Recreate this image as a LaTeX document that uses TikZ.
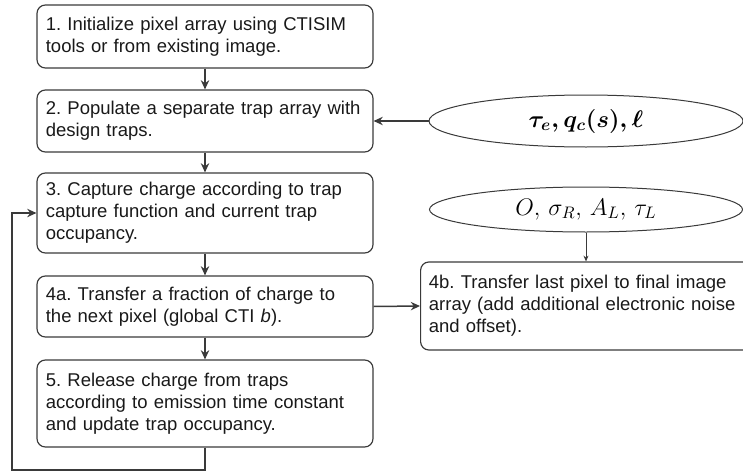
\documentclass[tikz,border=0pt]{standalone}
\usepackage{fontspec}
\setmainfont{Liberation Sans}
\usetikzlibrary{shapes.geometric,arrows.meta}

\definecolor{linegray}{HTML}{3A3A3A}
\tikzset{
    stage/.style={draw=linegray, line width=0.7pt, rounded corners=5pt, align=left,
        text width=191pt, minimum width=201.6pt, inner xsep=5.3pt, inner ysep=0pt,
        font=\fontsize{11.1}{13.2}\selectfont\frenchspacing, text=black!90},
    paramoval/.style={draw=linegray, line width=0.6pt, shape=ellipse, inner sep=0pt},
    flow/.style={draw=linegray, line width=0.9pt, -{Stealth[length=5.5pt,width=5pt]}},
    thinflow/.style={draw=linegray, line width=0.5pt, -{Stealth[length=3.5pt,width=3pt]}}
}

\begin{document}
\begin{tikzpicture}[x=0.6pt, y=-0.6pt]
    % Fix the page to the reference frame
    \useasboundingbox (0,0) rectangle (743,474);

    % Main column of steps
    \node[stage, minimum height=37.8pt] (init) at (205,36.5)
        {1. Initialize pixel array using CTISIM\\tools or from existing image.};
    \node[stage, minimum height=37.2pt] (populate) at (205,121)
        {2. Populate a separate trap array with\\design traps.};
    \node[stage, minimum height=48pt] (capture) at (205,213)
        {3. Capture charge according to trap\\capture function and current trap\\occupancy.};
    \node[stage, minimum height=36.6pt] (transfer) at (205,306.5)
        {4a. Transfer a fraction of charge to\\the next pixel (global CTI \textit{b}).};
    \node[stage, minimum height=52.2pt] (release) at (205,403.5)
        {5. Release charge from traps\\according to emission time constant\\and update trap occupancy.};

    % Output step on the right
    \node[stage, anchor=west, minimum height=52.8pt, text width=200pt, minimum width=210pt,
        inner xsep=4.8pt] (readout) at (420,306)
        {4b. Transfer last pixel to final image\\array (add additional electronic noise\\and offset).};

    % Parameter ellipses
    \node[paramoval, minimum width=188.4pt, minimum height=31.2pt,
        font=\fontsize{14.5}{17}\selectfont\mathversion{bold}] (trappar) at (586,121)
        {$\tau_e, q_c(s), \ell$};
    \node[paramoval, minimum width=187.8pt, minimum height=27pt,
        font=\fontsize{14.8}{17}\selectfont] (noisepar) at (586,209.5)
        {$O,\, \sigma_R,\, A_L,\, \tau_L$};

    % Connectors
    \draw[flow] (init) -- (populate);
    \draw[flow] (populate) -- (capture);
    \draw[flow] (capture) -- (transfer);
    \draw[flow] (transfer) -- (release);
    \draw[flow] (trappar.west) -- (populate.east);
    \draw[flow] (transfer.east) -- (readout.west);
    \draw[thinflow] (noisepar.south) -- (noisepar.south |- readout.north);

    % Loop back to the capture step
    \coordinate (loop) at (12,470);
    \draw[flow] (release.south) |- (loop) |- (capture.west);
\end{tikzpicture}
\end{document}
